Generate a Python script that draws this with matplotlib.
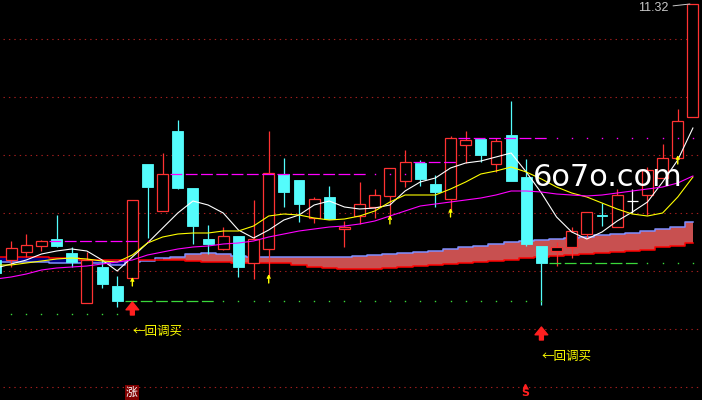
import numpy as np
import matplotlib
matplotlib.use('Agg')
import matplotlib.pyplot as plt
from matplotlib.patches import Rectangle
from matplotlib.transforms import offset_copy, blended_transform_factory

# daily bars (price)
opens = [8.76, 8.76, 8.84, 8.90, 8.97, 8.83, 8.33, 8.69, 8.50, 8.58,
         9.72, 9.25, 10.05, 9.48, 8.97, 8.87, 9.00, 8.73, 8.87, 9.62,
         9.56, 9.18, 9.39, 9.07, 9.20, 9.29, 9.40, 9.55, 9.73, 9.52,
         9.37, 9.91, 9.97, 9.72, 10.01, 9.59, 8.90, 8.85, 8.89, 9.02,
         9.21, 9.09, 9.35, 9.41, 9.58, 9.78, 10.19]
closes = [8.63, 8.88, 8.91, 8.95, 8.90, 8.74, 8.76, 8.52, 8.35, 9.36,
          9.49, 9.62, 9.48, 9.10, 8.92, 9.00, 8.69, 8.97, 9.63, 9.44,
          9.32, 9.37, 9.17, 9.09, 9.32, 9.41, 9.68, 9.74, 9.57, 9.44,
          9.98, 9.96, 9.81, 9.95, 9.55, 8.92, 8.73, 8.89, 9.05, 9.24,
          9.20, 9.41, 9.35, 9.66, 9.78, 10.15, 11.32]
highs = [8.78, 8.95, 9.02, 8.96, 9.21, 8.89, 8.84, 8.76, 8.60, 9.36,
         9.72, 9.83, 10.16, 9.48, 9.11, 9.09, 9.00, 9.36, 10.05, 9.78,
         9.56, 9.39, 9.50, 9.15, 9.54, 9.47, 9.68, 9.86, 9.76, 9.61,
         10.00, 10.05, 9.97, 9.98, 10.35, 9.77, 8.90, 8.94, 9.09, 9.24,
         9.33, 9.47, 9.47, 9.69, 9.92, 10.27, 11.32]
lows = [8.61, 8.69, 8.79, 8.85, 8.89, 8.69, 8.33, 8.48, 8.29, 8.56,
        8.98, 9.25, 9.47, 8.92, 8.82, 8.86, 8.59, 8.57, 8.59, 9.29,
        9.14, 9.13, 9.17, 8.89, 9.12, 9.18, 9.18, 9.49, 9.50, 9.29,
        9.25, 9.73, 9.74, 9.64, 9.55, 8.90, 8.31, 8.70, 8.78, 8.97,
        9.10, 9.09, 9.23, 9.21, 9.58, 9.78, 10.19]

# moving averages
ma5 = [8.68, 8.72, 8.76, 8.82, 8.85, 8.87, 8.85, 8.76, 8.65, 8.79,
       8.93, 9.08, 9.23, 9.35, 9.31, 9.23, 9.06, 8.98, 9.06, 9.16,
       9.21, 9.31, 9.35, 9.29, 9.27, 9.28, 9.31, 9.45, 9.54, 9.58,
       9.68, 9.73, 9.75, 9.79, 9.83, 9.64, 9.43, 9.19, 9.04, 8.97,
       9.04, 9.15, 9.24, 9.34, 9.54, 9.76, 10.08]
ma10 = [8.71, 8.71, 8.73, 8.75, 8.77, 8.78, 8.77, 8.75, 8.74, 8.81,
        8.93, 8.99, 9.02, 9.03, 9.03, 9.05, 9.05, 9.10, 9.20, 9.22,
        9.21, 9.18, 9.16, 9.17, 9.20, 9.25, 9.34, 9.41, 9.41, 9.41,
        9.47, 9.54, 9.62, 9.65, 9.69, 9.64, 9.57, 9.49, 9.43, 9.39,
        9.33, 9.27, 9.22, 9.20, 9.23, 9.39, 9.59]
ma20 = [8.57, 8.59, 8.62, 8.66, 8.68, 8.69, 8.70, 8.72, 8.74, 8.76,
        8.81, 8.84, 8.87, 8.89, 8.90, 8.92, 8.93, 8.95, 8.99, 9.02,
        9.05, 9.07, 9.09, 9.10, 9.12, 9.15, 9.20, 9.25, 9.30, 9.32,
        9.34, 9.36, 9.38, 9.41, 9.45, 9.45, 9.44, 9.42, 9.41, 9.40,
        9.41, 9.43, 9.45, 9.47, 9.49, 9.53, 9.60]

# cloud band
band_top = [8.74, 8.74, 8.74, 8.74, 8.73, 8.73, 8.73, 8.73, 8.71, 8.74,
            8.75, 8.78, 8.79, 8.82, 8.83, 8.82, 8.80, 8.79, 8.79, 8.79,
            8.79, 8.79, 8.79, 8.79, 8.80, 8.81, 8.82, 8.83, 8.84, 8.85,
            8.87, 8.89, 8.90, 8.92, 8.94, 8.95, 8.96, 8.97, 8.98, 8.99,
            9.01, 9.02, 9.03, 9.05, 9.07, 9.09, 9.14]
band_bot = [8.79, 8.79, 8.79, 8.79, 8.78, 8.78, 8.76, 8.76, 8.76, 8.76,
            8.76, 8.76, 8.76, 8.75, 8.74, 8.74, 8.73, 8.73, 8.73, 8.73,
            8.71, 8.69, 8.68, 8.67, 8.67, 8.67, 8.68, 8.69, 8.70, 8.71,
            8.72, 8.73, 8.74, 8.75, 8.76, 8.78, 8.79, 8.80, 8.81, 8.82,
            8.83, 8.84, 8.85, 8.86, 8.89, 8.90, 8.93]

grid_prices = [10.97, 10.39, 9.81, 9.23, 8.65, 8.07, 7.49]

# (price, first bar, last dashed bar, last dotted bar)
magenta_levels = [(8.95, 4, 9, 10), (9.62, 12, 24, 27), (9.74, 28, 30, 30), (9.98, 31, 36, 46)]
green_levels = [(8.35, 9, 14, 36), (8.73, 37, 42, 46), (8.22, 1, 0, 8)]

buy_marks = [9, 18, 26, 30, 45]
pullback_buys = [9, 36]
zhang_bar = 9
sell_bar = 35

RED = '#ff3232'
CYAN = '#54fcfc'
cjk = ['Noto Sans CJK SC', 'DejaVu Sans']

plt.rcParams['lines.scale_dashes'] = False

n = len(opens)
idx = np.arange(n)
fig = plt.figure(figsize=(7.02, 4.0), dpi=100, facecolor='black')
ax = fig.add_axes([0, 0, 1, 1])
ax.set_facecolor('black')
ax.set_xlim(0.264, 46.6)
ax.set_ylim(7.36, 11.36)
ax.axis('off')

for g in grid_prices:
    ax.axhline(g, xmin=0.004, color='#a01e1e', lw=0.8, ls=(0, (1.0, 2.9)), zorder=0)

# band
top = np.array(band_top)
bot = np.array(band_bot)
ax.fill_between(idx, top, bot, where=top >= bot, step='mid', color='#c85050', lw=0, zorder=1)
ax.fill_between(idx, top, bot, where=top < bot, step='mid', color='#000080', lw=0, zorder=1)
ax.step(idx, band_top, where='mid', color='#7f8fff', lw=1.1, zorder=1.5)
ax.step(idx, band_bot, where='mid', color='#ff0000', lw=1.1, zorder=1.5)

# candles
w = 0.72
for i in range(n):
    o, c, h, l = opens[i], closes[i], highs[i], lows[i]
    if c > o:
        col = RED
    elif c < o:
        col = CYAN
    else:
        col = 'white'
    hi_b, lo_b = max(o, c), min(o, c)
    ax.vlines(i, hi_b, h, color=col, lw=0.9, zorder=2)
    ax.vlines(i, l, lo_b, color=col, lw=0.9, zorder=2)
    if c > o:
        ax.add_patch(Rectangle((i - w / 2, lo_b), w, hi_b - lo_b, facecolor='black',
                               edgecolor=col, lw=0.9, zorder=3))
    elif c < o:
        ax.add_patch(Rectangle((i - w / 2, lo_b), w, hi_b - lo_b, facecolor=col,
                               edgecolor=col, lw=0.6, zorder=3))
    else:
        ax.hlines(o, i - w / 2, i + w / 2, color=col, lw=0.9, zorder=3)

# moving averages
ax.plot(idx, ma5, color='white', lw=0.8, zorder=4)
ax.plot(idx, ma10, color='#ffff00', lw=0.8, zorder=4)
ax.plot(idx, ma20, color='#ff00ff', lw=0.8, zorder=4)

# support / pressure levels
def draw_level(price, first, last_dash, last_dot, color):
    if last_dash >= first:
        ax.hlines(price, first - 0.5, last_dash + 0.5, color=color, lw=0.9,
                  linestyles=[(0, (8.5, 2.5))], zorder=4)
    dots = np.arange(max(first, last_dash + 1), last_dot + 1)
    ax.plot(dots, [price] * len(dots), ls='none', marker='s', ms=1.0, mew=0, color=color, zorder=4)

for lv in magenta_levels:
    draw_level(*lv, '#ff00ff')
for lv in green_levels:
    draw_level(*lv, '#3ad83a')

# small yellow arrows
for i in buy_marks:
    ax.annotate('', xy=(i, lows[i]), xycoords=offset_copy(ax.transData, fig=fig, x=0, y=3, units='dots'),
                xytext=(i, lows[i]), textcoords=offset_copy(ax.transData, fig=fig, x=0, y=-6, units='dots'),
                arrowprops=dict(arrowstyle='->', color='#ffff00', lw=1.0, shrinkA=0, shrinkB=0,
                                mutation_scale=5), zorder=5)

# pullback buy signals
for i in pullback_buys:
    ax.annotate('', xy=(i, lows[i]), xycoords=offset_copy(ax.transData, fig=fig, x=0, y=-22, units='dots'),
                xytext=(i, lows[i]), textcoords=offset_copy(ax.transData, fig=fig, x=0, y=-35, units='dots'),
                arrowprops=dict(arrowstyle='simple,head_length=0.8,head_width=1.3,tail_width=0.4',
                                color='#ff2020', shrinkA=0, shrinkB=0, mutation_scale=7), zorder=5)
    ax.text(i, lows[i], '←回调买', transform=offset_copy(ax.transData, fig=fig, x=0, y=-51, units='dots'),
            color='#ffff00', fontsize=9, family=cjk, ha='left', va='center', zorder=5)

bottom = blended_transform_factory(ax.transData, ax.transAxes)
ax.text(zhang_bar - 0.05, 0.018, '涨', transform=bottom, color='white', fontsize=8.5, family=cjk,
        ha='center', va='center', bbox=dict(boxstyle='square,pad=0.1', facecolor='#800000', edgecolor='none'))
ax.text(sell_bar - 0.08, 0.018, 'S', transform=bottom, color='#ff2020', fontsize=8,
        fontweight='bold', ha='center', va='center')
ax.plot([sell_bar - 0.08], [0.036], transform=bottom, marker='^', ms=3, color='#ff2020', ls='none')

# highest price label
top_i = int(np.argmax(highs))
ax.annotate(f'{highs[top_i]:.2f}', xy=(top_i - 0.2, highs[top_i]), xytext=(-21, -4),
            textcoords='offset pixels', color='#c8c8c8', fontsize=9, family='Liberation Sans',
            ha='right', va='center',
            arrowprops=dict(arrowstyle='-', color='#c8c8c8', lw=0.7, shrinkA=1, shrinkB=0))

# watermark
ax.text(0.866, 0.555, '6o7o.com', transform=ax.transAxes, color='white', fontsize=22,
        ha='center', va='center', zorder=6)

fig.savefig('out.png', dpi=100, facecolor='black')
